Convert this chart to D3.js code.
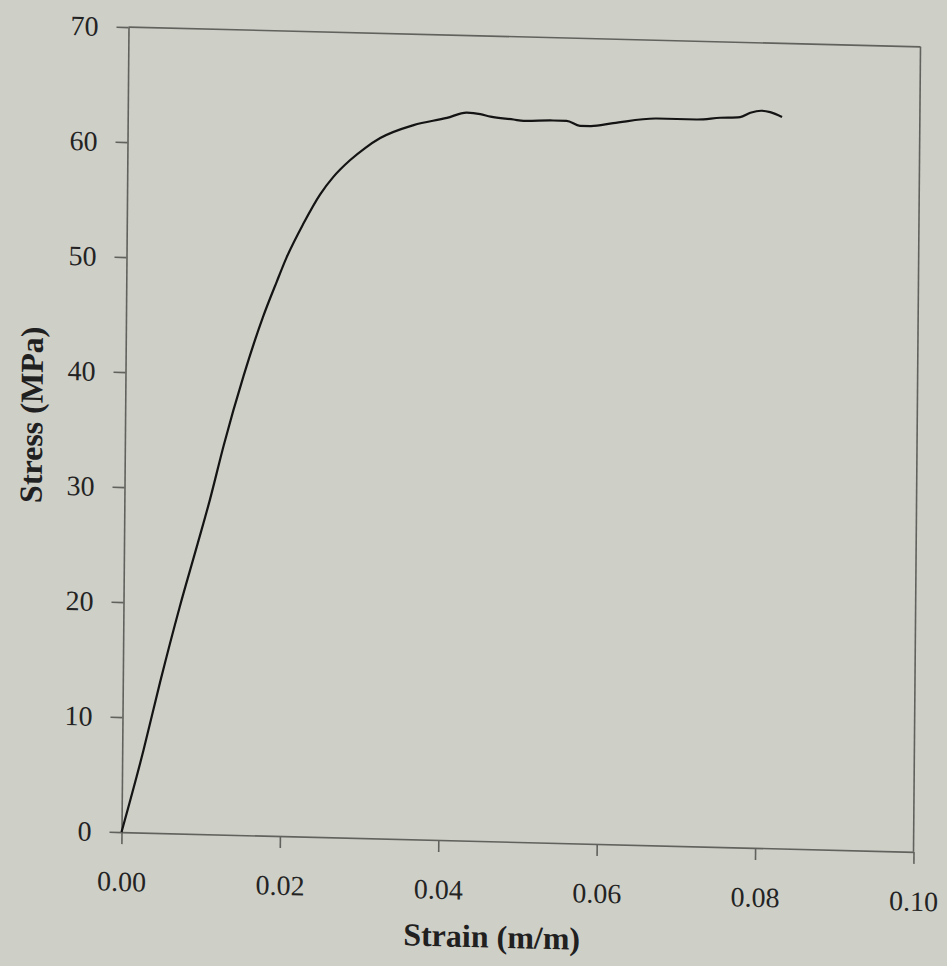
<!DOCTYPE html>
<html>
<head>
<meta charset="utf-8">
<script src="https://cdn.jsdelivr.net/npm/d3@7"></script>
<style>
    body { margin: 0; background: #cecfc7; }
    .axis text { font-family: "Liberation Serif", "Times New Roman", serif; font-size: 28px; fill: #232323; }
    .axis path, .axis line { stroke: #61625d; stroke-width: 1.6px; }
    .title { font-family: "Liberation Serif", "Times New Roman", serif; font-size: 32px; font-weight: bold; fill: #202020; }
</style>
</head>
<body>
<div id="chart"></div>
<script>
// values
var strain = [0, 0.0027, 0.0047, 0.0071, 0.0092, 0.0108, 0.0125, 0.0149, 0.0173, 0.0190,
    0.0202, 0.0223, 0.0244, 0.0260, 0.0281, 0.0300, 0.0319, 0.0361, 0.0403, 0.0428,
    0.0445, 0.0458, 0.0487, 0.0500, 0.0537, 0.0554, 0.0571, 0.0584, 0.0613, 0.0668,
    0.0718, 0.0748, 0.0773, 0.0786, 0.0800, 0.0811, 0.0826];
var stress = [0, 7.2, 13.1, 19.7, 25.0, 29.1, 33.9, 39.9, 45.1, 48.2,
    50.3, 53.3, 55.9, 57.4, 58.9, 60.0, 60.9, 62.1, 62.8, 63.3,
    63.2, 63.0, 62.8, 62.7, 62.8, 62.8, 62.4, 62.4, 62.7, 63.2,
    63.2, 63.4, 63.5, 63.9, 64.1, 64.0, 63.6];
var xTicks = [0, 0.02, 0.04, 0.06, 0.08, 0.10];
var yTicks = [0, 10, 20, 30, 40, 50, 60, 70];
var xTitle = "Strain (m/m)";
var yTitle = "Stress (MPa)";

var W = 792, H = 805;

var svg = d3.select("#chart").append("svg")
    .attr("width", 947)
    .attr("height", 966);

svg.append("rect").attr("width", 947).attr("height", 966).attr("fill", "#cecfc7");

// the page was scanned a little crooked, so the whole plot sits in a skewed frame
var g = svg.append("g")
    .attr("transform", "matrix(1,0.02494,-0.00869,1,128.5,27.1)");

var x = d3.scaleLinear().domain([0, 0.1]).range([0, W]);
var y = d3.scaleLinear().domain([0, 70]).range([H, 0]);

g.append("g")
    .attr("class", "axis")
    .attr("transform", "translate(0," + H + ")")
    .call(d3.axisBottom(x).tickValues(xTicks).tickSizeInner(12).tickSizeOuter(0)
        .tickPadding(27).tickFormat(d3.format(".2f")));

g.append("g")
    .attr("class", "axis")
    .call(d3.axisLeft(y).tickValues(yTicks).tickSizeInner(12).tickSizeOuter(0)
        .tickPadding(18).tickFormat(d3.format("d")));

// top and right edges of the box
g.append("line")
    .attr("x1", x(0)).attr("y1", y(70))
    .attr("x2", x(0.1)).attr("y2", y(70))
    .attr("stroke", "#61625d").attr("stroke-width", 1.6);
g.append("line")
    .attr("x1", x(0.1)).attr("y1", y(70))
    .attr("x2", x(0.1)).attr("y2", y(0))
    .attr("stroke", "#61625d").attr("stroke-width", 1.6);

var line = d3.line()
    .curve(d3.curveMonotoneX)
    .x(function(d, i) { return x(strain[i]); })
    .y(function(d, i) { return y(stress[i]); });

g.append("path")
    .datum(stress)
    .attr("d", line)
    .attr("fill", "none")
    .attr("stroke", "#141414")
    .attr("stroke-width", 2.2)
    .attr("stroke-linejoin", "round");

g.append("text")
    .attr("class", "title")
    .attr("x", 371)
    .attr("y", 900)
    .attr("text-anchor", "middle")
    .attr("dy", "0.35em")
    .text(xTitle);

g.append("text")
    .attr("class", "title")
    .attr("transform", "translate(-94,390) rotate(-90)")
    .attr("text-anchor", "middle")
    .attr("dy", "0.35em")
    .text(yTitle);
</script>
</body>
</html>
